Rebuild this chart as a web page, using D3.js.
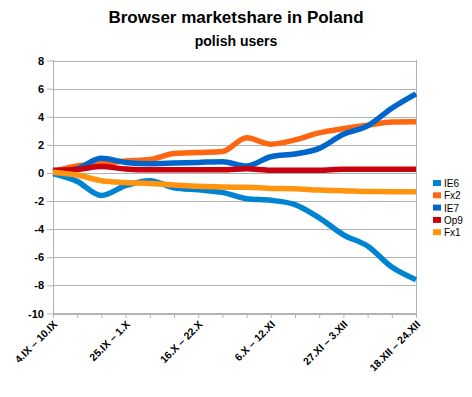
<!DOCTYPE html>
<html>
<head>
<meta charset="utf-8">
<script src="https://cdn.jsdelivr.net/npm/d3@7"></script>
<style>
  body { margin: 0; background: #fff; }
  text { font-family: "Liberation Sans", Arial, sans-serif; }
</style>
</head>
<body>
<div id="vis"></div>
<script>
// weekly periods
var weeks = ["4.IX – 10.IX", "11.IX – 17.IX", "18.IX – 24.IX", "25.IX – 1.X", "2.X – 8.X",
  "9.X – 15.X", "16.X – 22.X", "23.X – 29.X", "30.X – 5.XI", "6.X – 12.XI",
  "13.XI – 19.XI", "20.XI – 26.XI", "27.XI – 3.XII", "4.XII – 10.XII", "11.XII – 17.XII",
  "18.XII – 24.XII"];
var shownWeeks = ["4.IX – 10.IX", "25.IX – 1.X", "16.X – 22.X", "6.X – 12.XI", "27.XI – 3.XII", "18.XII – 24.XII"];

var seriesNames = ["IE6", "Fx2", "IE7", "Op9", "Fx1"];
var ie6 = [-0.05, -0.6, -1.6, -0.9, -0.55, -1.05, -1.2, -1.38, -1.83, -1.95, -2.25, -3.2, -4.4, -5.2, -6.7, -7.6];
var fx2 = [0.1, 0.5, 0.65, 0.85, 0.95, 1.38, 1.45, 1.52, 2.5, 2.05, 2.35, 2.85, 3.15, 3.4, 3.63, 3.65];
var ie7 = [0.05, 0.3, 1.05, 0.75, 0.66, 0.7, 0.75, 0.8, 0.5, 1.15, 1.35, 1.75, 2.75, 3.35, 4.6, 5.62];
var op9 = [0.2, 0.25, 0.45, 0.28, 0.22, 0.22, 0.22, 0.22, 0.3, 0.2, 0.2, 0.2, 0.27, 0.27, 0.27, 0.27];
var fx1 = [0.05, -0.15, -0.55, -0.68, -0.75, -0.85, -0.95, -1.0, -1.02, -1.1, -1.13, -1.22, -1.26, -1.32, -1.33, -1.33];
var colours = ["#0084d1", "#ff6611", "#0066cc", "#c9000e", "#ff950e"];
var yTicks = [-10, -8, -6, -4, -2, 0, 2, 4, 6, 8];

var width = 472, height = 397;
var margin = { top: 60, bottom: 84, left: 53, right: 56 };

var svg = d3.select('#vis')
  .append('svg')
  .attr('width', width)
  .attr('height', height);

svg.append('text')
  .attr('x', 236).attr('y', 23)
  .attr('text-anchor', 'middle')
  .style('font-size', '17px').style('font-weight', 'bold')
  .text('Browser marketshare in Poland');

svg.append('text')
  .attr('x', 236).attr('y', 46)
  .attr('text-anchor', 'middle')
  .style('font-size', '14px').style('font-weight', 'bold')
  .text('polish users');

var w = width - margin.left - margin.right;
var h = height - margin.top - margin.bottom;

var g = svg.append('g')
  .attr('transform', 'translate(' + margin.left + ',' + margin.top + ')');

var x_scale = d3.scalePoint().domain(weeks).range([0, w]);
var y_scale = d3.scaleLinear().domain([-10, 8]).range([h + 0.5, 0.5]);

// grid
g.selectAll('.grid')
  .data(yTicks)
  .enter()
  .append('line')
  .attr('class', 'grid')
  .attr('x1', 0).attr('x2', w)
  .attr('y1', function(d) { return Math.round(y_scale(d)) + 0.5; })
  .attr('y2', function(d) { return Math.round(y_scale(d)) + 0.5; })
  .attr('stroke', '#b3b3b3');

g.append('line')
  .attr('x1', w + 0.5).attr('x2', w + 0.5)
  .attr('y1', 0).attr('y2', h)
  .attr('stroke', '#b3b3b3');

// y axis
var y_axis = d3.axisLeft(y_scale).tickValues(yTicks).tickSize(6).tickPadding(3).tickFormat(d3.format('d'));
var ya = g.append('g').attr('class', 'y axis').call(y_axis);
ya.select('.domain').attr('stroke', '#b3b3b3').attr('d', 'M0.5,0V' + h);
ya.selectAll('.tick line').attr('stroke', '#b3b3b3');
ya.selectAll('.tick text')
  .style('font-size', '11px').style('font-weight', 'bold').attr('fill', '#000')
  .text(function(d) { return d < 0 ? '-' + Math.abs(d) : d; });

// x axis
var x_axis = d3.axisBottom(x_scale).tickSize(5).tickFormat('');
var xa = g.append('g').attr('class', 'x axis')
  .attr('transform', 'translate(0,' + Math.round(h) + ')')
  .call(x_axis);
xa.select('.domain').attr('stroke', '#b3b3b3').attr('d', 'M0,0.5H' + w);
xa.selectAll('.tick line').attr('stroke', '#b3b3b3');

g.selectAll('.xlabel')
  .data(shownWeeks)
  .enter()
  .append('text')
  .attr('class', 'xlabel')
  .attr('text-anchor', 'end')
  .attr('transform', function(d) {
    return 'translate(' + (x_scale(d) + 5) + ',' + (h + 12) + ') rotate(-45)';
  })
  .style('font-size', '10.5px').style('font-weight', 'bold')
  .text(function(d) { return d; });

// lines
var allSeries = [ie6, fx2, ie7, op9, fx1];
var line = d3.line()
  .x(function(d, i) { return x_scale(weeks[i]); })
  .y(function(d) { return y_scale(d); })
  .curve(d3.curveMonotoneX);

g.selectAll('.series')
  .data(allSeries)
  .enter()
  .append('path')
  .attr('class', 'series')
  .attr('d', line)
  .attr('fill', 'none')
  .attr('stroke', function(d, i) { return colours[i]; })
  .attr('stroke-width', 5.5);

// legend
var legend = svg.selectAll('.legend')
  .data(seriesNames)
  .enter()
  .append('g')
  .attr('class', 'legend')
  .attr('transform', function(d, i) { return 'translate(433,' + (180 + i * 12.3) + ')'; });

legend.append('rect')
  .attr('width', 8).attr('height', 6)
  .attr('fill', function(d, i) { return colours[i]; });

legend.append('text')
  .attr('x', 11).attr('y', 7)
  .style('font-size', '10px')
  .text(function(d) { return d; });
</script>
</body>
</html>
